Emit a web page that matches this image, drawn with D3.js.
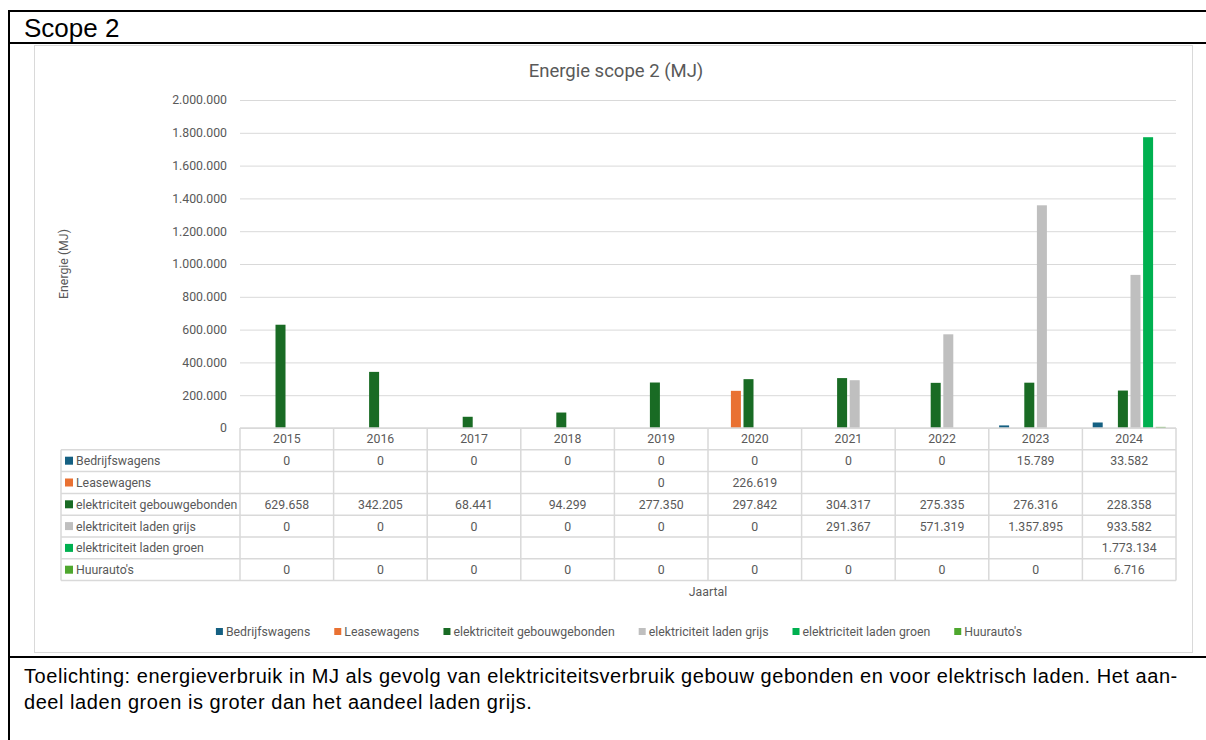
<!DOCTYPE html>
<html>
<head>
<meta charset="utf-8">
<script src="https://cdn.jsdelivr.net/npm/d3@7"></script>
<style>
  body { margin: 0; background: #fff; }
  text { font-family: Roboto, "Liberation Sans", sans-serif; }
</style>
</head>
<body>
<div id="chart-container"></div>
<script>
//data uit de grafiek (MJ per jaar)
const years = ['2015', '2016', '2017', '2018', '2019', '2020', '2021', '2022', '2023', '2024']
const seriesNames = ['Bedrijfswagens', 'Leasewagens', 'elektriciteit gebouwgebonden', 'elektriciteit laden grijs', 'elektriciteit laden groen', "Huurauto's"]
const bedrijfswagens = [0, 0, 0, 0, 0, 0, 0, 0, 15789, 33582]
const leasewagens = [null, null, null, null, 0, 226619, null, null, null, null]
const gebouwgebonden = [629658, 342205, 68441, 94299, 277350, 297842, 304317, 275335, 276316, 228358]
const ladenGrijs = [0, 0, 0, 0, 0, 0, 291367, 571319, 1357895, 933582]
const ladenGroen = [null, null, null, null, null, null, null, null, null, 1773134]
const huurautos = [0, 0, 0, 0, 0, 0, 0, 0, 0, 6716]
const yTicks = [0, 200000, 400000, 600000, 800000, 1000000, 1200000, 1400000, 1600000, 1800000, 2000000]
const seriesColors = ['#156082', '#E97132', '#196B24', '#BFBFBF', '#00B050', '#4EA72E']

//alle series bij elkaar voor de tabel en de bars
const seriesValues = [bedrijfswagens, leasewagens, gebouwgebonden, ladenGrijs, ladenGroen, huurautos]
const series = seriesNames.map((name, i) => ({ name, color: seriesColors[i], values: seriesValues[i] }))

//settings
const width = 1206
const height = 740
const plot = { left: 240, right: 1176, top: 100, bottom: 428 }
const rowHeight = 21.8
const labelLeft = 61
const textColor = '#595959'
const lineColor = '#d9d9d9'
const smallFont = '12.3px'

//nederlandse notatie: punt als duizendtal scheiding
const nl = d3.formatLocale({ decimal: ',', thousands: '.', grouping: [3], currency: ['€', ''] })
const fmt = nl.format(',')

const svg = d3.select('#chart-container')
    .append('svg')
    .attr('width', width)
    .attr('height', height)

//kader van het document
svg.append('rect').attr('width', width).attr('height', height).attr('fill', '#fff')
const frame = svg.append('g').attr('stroke', '#000').attr('stroke-width', 2)
frame.append('line').attr('x1', 8).attr('x2', width).attr('y1', 11).attr('y2', 11)
frame.append('line').attr('x1', 8).attr('x2', width).attr('y1', 43).attr('y2', 43)
frame.append('line').attr('x1', 8).attr('x2', width).attr('y1', 657).attr('y2', 657)
frame.append('line').attr('x1', 9).attr('x2', 9).attr('y1', 10).attr('y2', height)

svg.append('text')
    .attr('x', 24)
    .attr('y', 37)
    .style('font-family', '"Liberation Sans", Arial, sans-serif')
    .style('font-size', '26px')
    .attr('fill', '#000')
    .text('Scope 2')

//grafiek vlak
svg.append('rect')
    .attr('x', 34.5).attr('y', 45.5)
    .attr('width', 1158).attr('height', 607)
    .attr('fill', '#fff')
    .attr('stroke', lineColor)

svg.append('text')
    .attr('x', 616)
    .attr('y', 77)
    .attr('text-anchor', 'middle')
    .attr('fill', textColor)
    .style('font-size', '18.5px')
    .text('Energie scope 2 (MJ)')

//schalen
const xScale = d3.scaleBand().domain(years).range([plot.left, plot.right])
const xInner = d3.scaleBand().domain(seriesNames).range([0, xScale.bandwidth()])
    .paddingInner(0.206).paddingOuter(0.818)
const yScale = d3.scaleLinear().domain([0, 2000000]).range([plot.bottom, plot.top])

const g = svg.append('g')

//gridlines + y as labels
const yAxis = g.append('g')
    .attr('transform', `translate(${plot.left}, 0)`)
    .call(d3.axisLeft(yScale)
        .tickValues(yTicks)
        .tickSize(-(plot.right - plot.left))
        .tickPadding(13)
        .tickFormat(fmt))
yAxis.select('.domain').remove()
yAxis.selectAll('line').attr('stroke', lineColor).attr('stroke-width', 1)
yAxis.selectAll('text').attr('fill', textColor).style('font-size', smallFont)

//y as titel
g.append('text')
    .attr('transform', `translate(68, ${(plot.top + plot.bottom) / 2}) rotate(-90)`)
    .attr('text-anchor', 'middle')
    .attr('fill', textColor)
    .style('font-size', smallFont)
    .text('Energie (MJ)')

//bars per jaar
const groups = g.selectAll('.year')
    .data(years)
    .enter()
    .append('g')
    .attr('class', 'year')
    .attr('transform', d => `translate(${xScale(d)}, 0)`)

groups.selectAll('rect')
    .data((d, i) => series.map(s => ({ name: s.name, color: s.color, value: s.values[i] })).filter(d => d.value))
    .enter()
    .append('rect')
    .attr('x', d => xInner(d.name))
    .attr('y', d => yScale(d.value))
    .attr('width', xInner.bandwidth())
    .attr('height', d => plot.bottom - yScale(d.value))
    .attr('fill', d => d.color)

//data tabel onder de grafiek
const table = g.append('g').attr('stroke', lineColor).attr('stroke-width', 1.5).attr('fill', 'none')
const tableBottom = plot.bottom + rowHeight * (series.length + 1)

//horizontale lijnen
table.append('line').attr('x1', plot.left).attr('x2', plot.right).attr('y1', plot.bottom).attr('y2', plot.bottom)
d3.range(1, series.length + 2).forEach(r => {
    table.append('line')
        .attr('x1', labelLeft).attr('x2', plot.right)
        .attr('y1', plot.bottom + r * rowHeight).attr('y2', plot.bottom + r * rowHeight)
})
//verticale lijnen
years.forEach(y => {
    table.append('line')
        .attr('x1', xScale(y)).attr('x2', xScale(y))
        .attr('y1', plot.bottom).attr('y2', tableBottom)
})
table.append('line').attr('x1', plot.right).attr('x2', plot.right).attr('y1', plot.bottom).attr('y2', tableBottom)
table.append('line').attr('x1', labelLeft).attr('x2', labelLeft).attr('y1', plot.bottom + rowHeight).attr('y2', tableBottom)

//jaartallen
g.selectAll('.year-label')
    .data(years)
    .enter()
    .append('text')
    .attr('class', 'year-label')
    .attr('x', d => xScale(d) + xScale.bandwidth() / 2)
    .attr('y', plot.bottom + rowHeight / 2 + 4.5)
    .attr('text-anchor', 'middle')
    .attr('fill', textColor)
    .style('font-size', smallFont)
    .text(d => d)

//rijen met labels en waardes
const rows = g.selectAll('.row')
    .data(series)
    .enter()
    .append('g')
    .attr('class', 'row')
    .attr('transform', (d, i) => `translate(0, ${plot.bottom + (i + 1) * rowHeight})`)

rows.append('rect')
    .attr('x', 65).attr('y', rowHeight / 2 - 4)
    .attr('width', 8).attr('height', 8)
    .attr('fill', d => d.color)

rows.append('text')
    .attr('x', 76)
    .attr('y', rowHeight / 2 + 4.5)
    .attr('fill', textColor)
    .style('font-size', smallFont)
    .text(d => d.name)

rows.selectAll('.cell')
    .data(d => d.values)
    .enter()
    .append('text')
    .attr('class', 'cell')
    .attr('x', (d, i) => xScale(years[i]) + xScale.bandwidth() / 2)
    .attr('y', rowHeight / 2 + 4.5)
    .attr('text-anchor', 'middle')
    .attr('fill', textColor)
    .style('font-size', smallFont)
    .text(d => d === null ? '' : fmt(d))

//x as titel
g.append('text')
    .attr('x', (plot.left + plot.right) / 2)
    .attr('y', 596)
    .attr('text-anchor', 'middle')
    .attr('fill', textColor)
    .style('font-size', smallFont)
    .text('Jaartal')

//legenda, eerst bouwen dan centreren
const legend = g.append('g')
const items = legend.selectAll('g')
    .data(series)
    .enter()
    .append('g')
items.append('rect')
    .attr('y', -4).attr('width', 7).attr('height', 7)
    .attr('fill', d => d.color)
items.append('text')
    .attr('x', 10)
    .attr('y', 3.5)
    .attr('fill', textColor)
    .style('font-size', smallFont)
    .text(d => d.name)

let offset = 0
items.each(function () {
    d3.select(this).attr('transform', `translate(${offset}, 0)`)
    offset += 10 + d3.select(this).select('text').node().getComputedTextLength() + 24
})
const legendWidth = offset - 24
legend.attr('transform', `translate(${619 - legendWidth / 2}, 632)`)

//toelichting onder het kader
const note = [
    'Toelichting: energieverbruik in MJ als gevolg van elektriciteitsverbruik gebouw gebonden en voor elektrisch laden. Het aan-',
    'deel laden groen is groter dan het aandeel laden grijs.'
]
svg.selectAll('.note')
    .data(note)
    .enter()
    .append('text')
    .attr('class', 'note')
    .attr('x', 24)
    .attr('y', (d, i) => 683 + i * 26)
    .attr('fill', '#000')
    .style('font-family', '"Liberation Sans", Arial, sans-serif')
    .style('font-size', '20px')
    .style('letter-spacing', '0.55px')
    .text(d => d)
</script>
</body>
</html>
